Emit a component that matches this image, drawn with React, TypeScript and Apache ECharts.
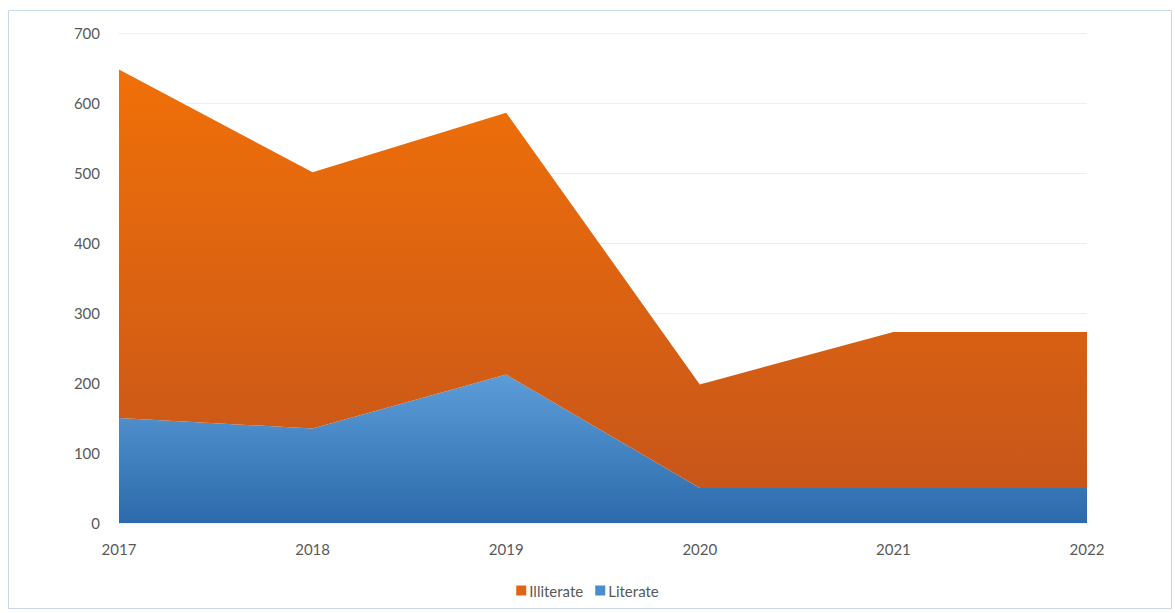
import React, { useEffect, useRef } from "react";
import * as echarts from "echarts";

const years = ["2017", "2018", "2019", "2020", "2021", "2022"];
const literate = [150, 135, 212, 50, 50, 50];
const illiterate = [498, 366, 374, 148, 223, 223];
const yTicks = [0, 100, 200, 300, 400, 500, 600, 700];

const FONT = "Lato, 'Open Sans', sans-serif";

export default function App() {
  const ref = useRef<HTMLDivElement>(null);
  useEffect(() => {
    document.body.style.margin = "0";
    const chart = echarts.init(ref.current!, null, { renderer: "svg" });
    chart.setOption({
      animation: false,
      backgroundColor: "#ffffff",
      textStyle: { fontFamily: FONT },
      graphic: [
        {
          type: "rect",
          shape: { x: 8.5, y: 10.5, width: 1163, height: 598 },
          style: { fill: "none", stroke: "#c9d7e8", lineWidth: 1 },
          silent: true,
          z: -1,
        },
      ],
      grid: { left: 119, right: 88, top: 33, bottom: 90 },
      legend: {
        bottom: 10,
        left: "center",
        itemWidth: 10,
        itemHeight: 10,
        itemGap: 12,
        icon: "rect",
        textStyle: { color: "#595959", fontSize: 15, fontFamily: FONT, padding: [0, 0, 0, -2] },
        data: ["Illiterate", "Literate"],
      },
      xAxis: {
        type: "category",
        data: years,
        boundaryGap: false,
        axisLine: { show: false },
        axisTick: { show: false },
        axisLabel: { color: "#595959", fontSize: 15, margin: 18, fontFamily: FONT },
        splitLine: { show: false },
      },
      yAxis: {
        type: "value",
        min: yTicks[0],
        max: yTicks[yTicks.length - 1],
        interval: 100,
        axisLine: { show: false },
        axisTick: { show: false },
        axisLabel: { color: "#595959", fontSize: 15, margin: 19, fontFamily: FONT },
        splitLine: { show: true, lineStyle: { color: "#eeeeee", width: 1 } },
      },
      series: [
        {
          name: "Literate",
          type: "line",
          stack: "total",
          data: literate,
          symbol: "none",
          lineStyle: { width: 0 },
          itemStyle: { color: "#4a8ccc" },
          areaStyle: {
            opacity: 1,
            color: new echarts.graphic.LinearGradient(0, 0, 0, 1, [
              { offset: 0, color: "#5c9dd8" },
              { offset: 1, color: "#2c6aab" },
            ]),
          },
        },
        {
          name: "Illiterate",
          type: "line",
          stack: "total",
          data: illiterate,
          symbol: "none",
          lineStyle: { width: 0 },
          itemStyle: { color: "#e06411" },
          areaStyle: {
            opacity: 1,
            color: new echarts.graphic.LinearGradient(0, 0, 0, 1, [
              { offset: 0, color: "#f07008" },
              { offset: 1, color: "#c8561a" },
            ]),
          },
        },
      ],
    });
    return () => chart.dispose();
  }, []);
  return <div ref={ref} style={{ width: 1175, height: 613 }} />;
}
